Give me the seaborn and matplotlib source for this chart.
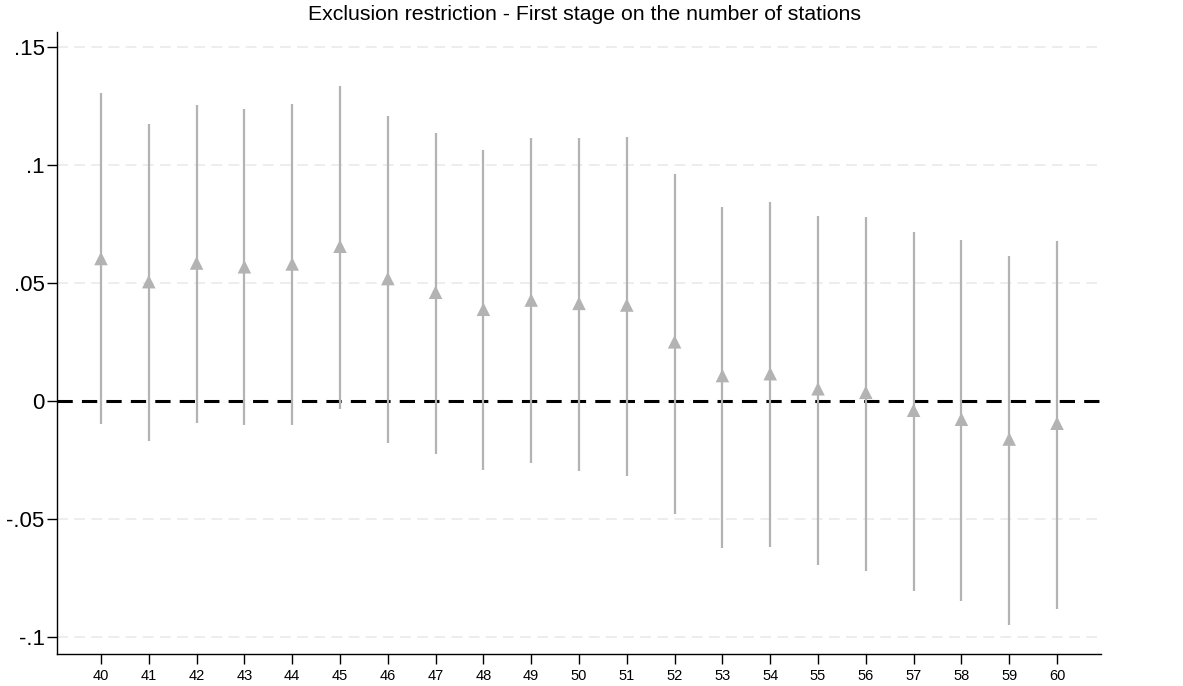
import numpy as np
import pandas as pd
import matplotlib
matplotlib.use("Agg")
import matplotlib.pyplot as plt
import seaborn as sns

# ── Data ──────────────────────────────────────────────────────────────────────
ages = [40, 41, 42, 43, 44, 45, 46, 47, 48, 49, 50,
        51, 52, 53, 54, 55, 56, 57, 58, 59, 60]
coef = [0.0605, 0.0507, 0.0586, 0.0570, 0.0582, 0.0657, 0.0520, 0.0462, 0.0390, 0.0429, 0.0415,
        0.0408, 0.0252, 0.0109, 0.0117, 0.0053, 0.0038, -0.0038, -0.0076, -0.0160, -0.0093]
ci_low = [-0.0098, -0.0170, -0.0091, -0.0102, -0.0102, -0.0031, -0.0175, -0.0222, -0.0290, -0.0263, -0.0294,
          -0.0318, -0.0476, -0.0620, -0.0616, -0.0692, -0.0720, -0.0804, -0.0845, -0.0948, -0.0880]
ci_high = [0.1306, 0.1175, 0.1255, 0.1238, 0.1258, 0.1337, 0.1210, 0.1137, 0.1064, 0.1114, 0.1114,
           0.1121, 0.0963, 0.0823, 0.0843, 0.0784, 0.0781, 0.0716, 0.0683, 0.0614, 0.0679]
ytick_vals = [-0.1, -0.05, 0, 0.05, 0.1, 0.15]
ytick_labels = ["-.1", "-.05", "0", ".05", ".1", ".15"]

df = pd.DataFrame({"age": ages, "coef": coef, "lo": ci_low, "hi": ci_high})

GRAY = "#b3b3b3"

sns.set_style("white")
plt.rcParams["font.family"] = ["Liberation Sans", "DejaVu Sans"]
plt.rcParams["text.color"] = "black"
plt.rcParams["xtick.color"] = "black"
plt.rcParams["ytick.color"] = "black"

fig = plt.figure(figsize=(11.83, 6.86), dpi=100)
ax = fig.add_axes([57 / 1183, 1 - 654 / 686, (1101 - 57) / 1183, (654 - 32) / 686])

# light dashed grid
for v in ytick_vals:
    if v != 0:
        ax.axhline(v, color="#ececec", lw=1.3, dashes=(6, 3.5), zorder=0)

# zero reference line
ax.axhline(0, color="black", lw=2.2, dashes=(5, 3), zorder=1)

# confidence intervals + point estimates
ax.vlines(df["age"], df["lo"], df["hi"], color=GRAY, lw=1.6, zorder=2)
sns.scatterplot(data=df, x="age", y="coef", marker="^", s=95, color=GRAY,
                edgecolor="none", ax=ax, zorder=3, legend=False)

ax.set_xlim(39.08, 60.92)
ax.set_ylim(-0.1071, 0.1565)
ax.set_xticks(ages)
ax.set_xticklabels([str(a) for a in ages], fontsize=10.5, color="black")
ax.set_yticks(ytick_vals)
ax.set_yticklabels(ytick_labels, fontsize=16, color="black")
ax.set_xlabel("")
ax.set_ylabel("")

for side in ["top", "right"]:
    ax.spines[side].set_visible(False)
for side in ["left", "bottom"]:
    ax.spines[side].set_color("black")
    ax.spines[side].set_linewidth(1.0)
ax.tick_params(axis="both", direction="out", length=7, width=1, color="black",
               bottom=True, left=True)
ax.tick_params(axis="x", pad=4)
ax.tick_params(axis="y", pad=2)

fig.text(585 / 1183, 1 - 14 / 686, "Exclusion restriction - First stage on the number of stations",
         ha="center", va="center", fontsize=15.35, color="black")

fig.savefig("out.png", dpi=100)
